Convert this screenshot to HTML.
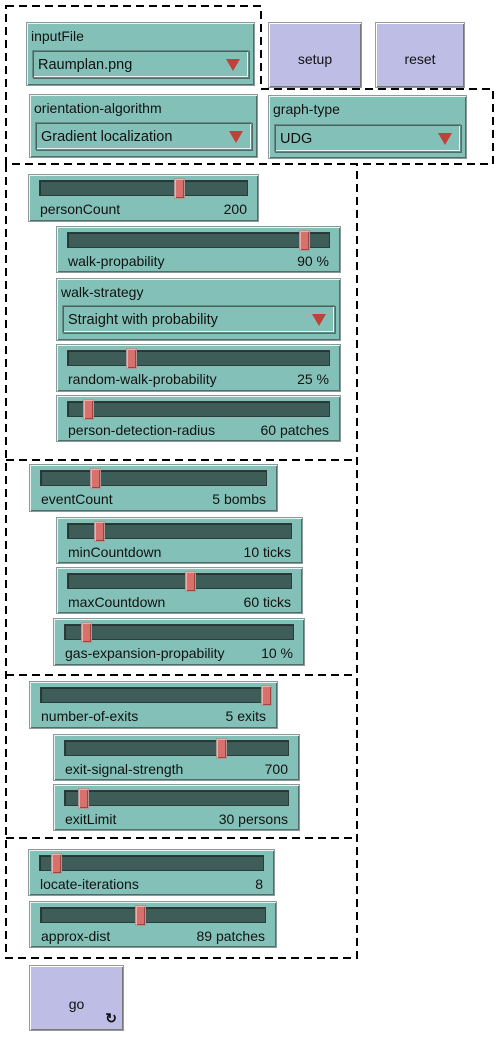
<!DOCTYPE html>
<html><head><meta charset="utf-8"><style>
body{margin:0;width:501px;height:1037px;background:#fff;position:relative;overflow:hidden;font-family:"Liberation Sans",sans-serif;font-size:14px;color:#111}
.w{position:absolute;background:#83c1b8;border:1px solid #8a9a98;box-shadow:inset 1px 1px 0 #e8f5f2,inset -1px -1px 0 #4d6e69;box-sizing:border-box}
.tr{position:absolute;left:10px;right:10px;top:5px;height:16px;background:#3f5d58;border:1px solid #2a3d3a;box-shadow:inset 1px 1px 0 #243532;box-sizing:border-box}
.h{position:absolute;top:3px;width:11px;height:21px;background:#d8716c;border:1px solid #a99;box-sizing:border-box;box-shadow:inset 1px 1px 0 #f0b0aa,inset -1px -1px 0 #9a4540}
.l{position:absolute;left:11px;top:26px}
.v{position:absolute;right:11px;top:26px}
.ct{position:absolute;left:4px;top:5px}
.dd{position:absolute;left:5px;right:5px;height:28px;border:1px solid #6a8a86;box-shadow:inset 1px 1px 0 #456660,inset -1px -1px 0 #e8f5f2,1px 1px 0 #4d6e69;box-sizing:border-box;padding:6px 0 0 5px;font-size:14.5px}
.tri{position:absolute;right:8px;top:8px;width:0;height:0;border-left:7px solid transparent;border-right:7px solid transparent;border-top:12px solid #c0403a}
.b{position:absolute;background:#bdbde6;border:1px solid #999;box-shadow:inset 1px 1px 0 #fff,inset -1px -1px 0 #777;box-sizing:border-box;text-align:center;line-height:72px}
</style></head><body>
<svg width="501" height="1037" style="position:absolute;left:0;top:0" fill="none" stroke="#000" stroke-width="2" stroke-dasharray="8,5">
<path d="M6 6 H261 V89 H493 V164 H6 Z"/>
<path d="M6 164 V958 H357 V164"/>
<path d="M6 460 H357 M6 675 H357 M6 838 H357"/>
</svg>

<div class="w" style="left:26px;top:22px;width:229px;height:64px"><div class="ct">inputFile</div><div class="dd" style="top:27px">Raumplan.png<div class="tri"></div></div></div>
<div class="b" style="left:268px;top:22px;width:94px;height:66px">setup</div>
<div class="b" style="left:375px;top:22px;width:90px;height:66px">reset</div>
<div class="w" style="left:29px;top:94px;width:229px;height:64px"><div class="ct">orientation-algorithm</div><div class="dd" style="top:27px">Gradient localization<div class="tri"></div></div></div>
<div class="w" style="left:268px;top:95px;width:199px;height:64px"><div class="ct">graph-type</div><div class="dd" style="top:28px">UDG<div class="tri"></div></div></div>

<div class="w" style="left:28px;top:174px;width:231px;height:48px"><div class="tr"></div><div class="h" style="left:145px"></div><div class="l">personCount</div><div class="v">200</div></div>
<div class="w" style="left:56px;top:226px;width:285px;height:47px"><div class="tr"></div><div class="h" style="left:242px"></div><div class="l">walk-propability</div><div class="v">90 %</div></div>
<div class="w" style="left:56px;top:278px;width:285px;height:63px"><div class="ct">walk-strategy</div><div class="dd" style="top:26px">Straight with probability<div class="tri"></div></div></div>
<div class="w" style="left:56px;top:344px;width:285px;height:48px"><div class="tr"></div><div class="h" style="left:69px"></div><div class="l">random-walk-probability</div><div class="v">25 %</div></div>
<div class="w" style="left:56px;top:395px;width:285px;height:47px"><div class="tr"></div><div class="h" style="left:26px"></div><div class="l">person-detection-radius</div><div class="v">60 patches</div></div>

<div class="w" style="left:29px;top:464px;width:249px;height:48px"><div class="tr"></div><div class="h" style="left:60px"></div><div class="l">eventCount</div><div class="v">5 bombs</div></div>
<div class="w" style="left:56px;top:517px;width:247px;height:47px"><div class="tr"></div><div class="h" style="left:37px"></div><div class="l">minCountdown</div><div class="v">10 ticks</div></div>
<div class="w" style="left:56px;top:567px;width:247px;height:47px"><div class="tr"></div><div class="h" style="left:128px"></div><div class="l">maxCountdown</div><div class="v">60 ticks</div></div>
<div class="w" style="left:53px;top:618px;width:252px;height:48px"><div class="tr"></div><div class="h" style="left:27px"></div><div class="l">gas-expansion-propability</div><div class="v">10 %</div></div>

<div class="w" style="left:29px;top:681px;width:249px;height:48px"><div class="tr"></div><div class="h" style="left:231px"></div><div class="l">number-of-exits</div><div class="v">5 exits</div></div>
<div class="w" style="left:53px;top:734px;width:247px;height:47px"><div class="tr"></div><div class="h" style="left:162px"></div><div class="l">exit-signal-strength</div><div class="v">700</div></div>
<div class="w" style="left:53px;top:784px;width:247px;height:47px"><div class="tr"></div><div class="h" style="left:24px"></div><div class="l">exitLimit</div><div class="v">30 persons</div></div>

<div class="w" style="left:28px;top:849px;width:247px;height:47px"><div class="tr"></div><div class="h" style="left:22px"></div><div class="l">locate-iterations</div><div class="v">8</div></div>
<div class="w" style="left:29px;top:901px;width:248px;height:47px"><div class="tr"></div><div class="h" style="left:105px"></div><div class="l">approx-dist</div><div class="v">89 patches</div></div>

<div class="b" style="left:29px;top:965px;width:95px;height:66px;line-height:76px">go<span style="position:absolute;right:6px;bottom:-26px;font-size:14px;font-weight:bold">↻</span></div>
</body></html>
